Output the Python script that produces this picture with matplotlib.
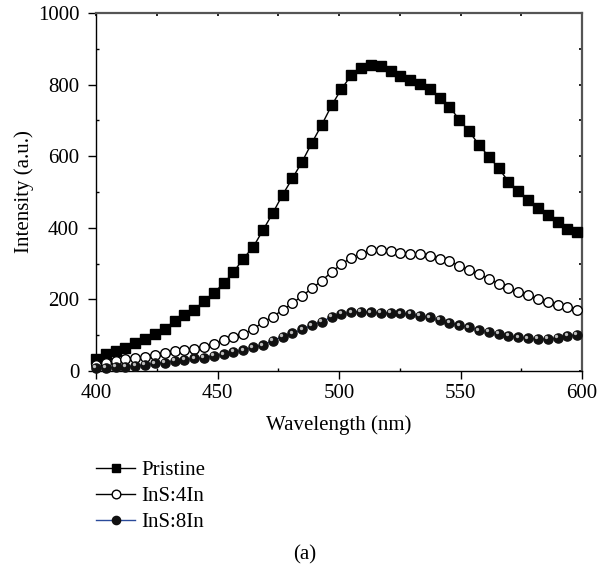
import numpy as np
import matplotlib
matplotlib.use("Agg")
import matplotlib.pyplot as plt
from matplotlib.transforms import ScaledTranslation
from matplotlib.ticker import MultipleLocator

plt.rcParams['font.family'] = ['Liberation Serif', 'DejaVu Serif']

wavelength = np.linspace(400, 598, 50)

pristine = [34, 47, 56, 65, 77, 89, 103, 118, 140, 157,
            171, 195, 218, 245, 276, 314, 346, 393, 441, 492,
            538, 585, 638, 688, 742, 788, 826, 847, 856, 852,
            838, 824, 813, 802, 787, 763, 738, 702, 669, 632,
            599, 567, 529, 504, 479, 454, 435, 417, 398, 387]

ins4 = [18, 22, 28, 33, 36, 40, 45, 51, 56, 58,
        61, 67, 75, 86, 94, 103, 117, 136, 152, 170,
        189, 210, 231, 252, 277, 298, 317, 328, 337, 337,
        335, 331, 328, 326, 320, 314, 307, 293, 283, 270,
        258, 243, 232, 220, 211, 201, 192, 185, 180, 170]

ins8 = [8, 9, 11, 12, 14, 17, 21, 23, 28, 31,
        35, 37, 42, 47, 53, 58, 66, 72, 85, 96,
        105, 116, 128, 138, 151, 159, 164, 166, 164, 162,
        162, 161, 159, 154, 150, 142, 134, 128, 122, 114,
        110, 103, 98, 94, 91, 89, 89, 92, 98, 101]

labels = ["Pristine", "InS:4In", "InS:8In"]

fig = plt.figure(figsize=(6.07, 5.69), dpi=100)
ax = fig.add_axes([96/607, 1-371/569, 486/607, 358/569])

h1, = ax.plot(wavelength, pristine, color='black', lw=1.0, marker='s', ms=6.6,
              mfc='black', mec='black', clip_on=False, zorder=3)
h2, = ax.plot(wavelength, ins4, color='black', lw=1.0, marker='o', ms=6.9,
              mfc='white', mec='black', mew=1.0, clip_on=False, zorder=3)
h3, = ax.plot(wavelength, ins8, color='#2a4a9a', lw=1.0, marker='o', ms=6.6,
              mfc='#111111', mec='#111111', clip_on=False, zorder=3)
# sphere highlight
off = ScaledTranslation(-1.2/72, 1.2/72, fig.dpi_scale_trans)
ax.plot(wavelength, ins8, ls='none', marker='o', ms=2.4, mfc='#bdbdbd', mec='none',
        transform=ax.transData + off, clip_on=False, zorder=4)

ax.set_xlim(400, 600)
ax.set_ylim(0, 1000)
ax.xaxis.set_major_locator(MultipleLocator(50))
ax.xaxis.set_minor_locator(MultipleLocator(25))
ax.yaxis.set_major_locator(MultipleLocator(200))
ax.yaxis.set_minor_locator(MultipleLocator(100))
ax.tick_params(which='major', direction='out', length=6, width=1, labelsize=15)
ax.tick_params(axis='x', which='major', pad=3)
ax.tick_params(axis='y', which='major', pad=6)
ax.tick_params(which='minor', direction='in', length=2, width=1)

for s in ['top', 'right']:
    ax.spines[s].set_color('#555555')
    ax.spines[s].set_linewidth(1.6)
for s in ['left', 'bottom']:
    ax.spines[s].set_color('black')
    ax.spines[s].set_linewidth(1.0)

secx = ax.secondary_xaxis('top')
secx.xaxis.set_major_locator(MultipleLocator(25))
secx.tick_params(direction='in', length=2, width=1.2, labeltop=False)
secx.spines['top'].set_visible(False)
secy = ax.secondary_yaxis('right')
secy.yaxis.set_major_locator(MultipleLocator(100))
secy.tick_params(direction='in', length=2, width=1.2, labelright=False)
secy.spines['right'].set_visible(False)

ax.set_xlabel("Wavelength (nm)", fontsize=15, labelpad=9)
ax.set_ylabel("Intensity (a.u.)", fontsize=15, labelpad=3)

leg = fig.legend([h1, h2, h3], labels, loc='upper left',
                 bbox_to_anchor=(77/607, 1-442/569), frameon=False, fontsize=15,
                 handlelength=1.9, handletextpad=0.3, labelspacing=0.3, markerscale=0.9)

fig.text(305/607, 1-555/569, "(a)", ha='center', va='center', fontsize=15)

fig.savefig("out.png", dpi=100)
